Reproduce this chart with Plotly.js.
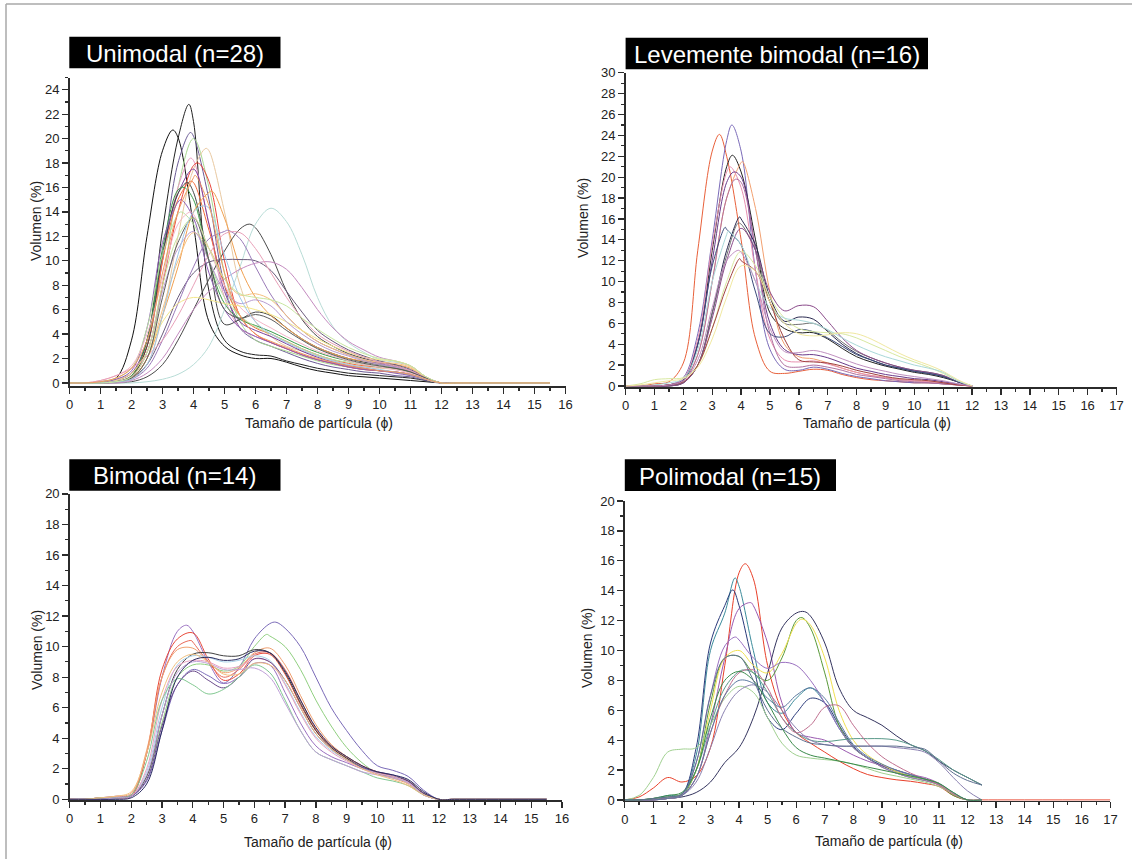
<!DOCTYPE html>
<html>
<head>
<meta charset="utf-8">
<script src="https://cdn.plot.ly/plotly-3.0.1.min.js"></script>
<style>html,body{margin:0;padding:0;background:#fff;}#chart{width:1132px;height:859px;}</style>
</head>
<body>
<div id="chart"></div>
<script>
// ---------- DATA ----------
// x grids (particle size, phi)
const X_UNI = [0,0.5,1,1.5,2,2.5,3,3.5,4,4.5,5,5.5,6,6.5,7,7.5,8,8.5,9,9.5,10,10.5,11,11.5,12,12.5,15.5];
const X_LEV = [0,0.5,1,1.5,2,2.5,3,3.5,4,4.5,5,5.5,6,6.5,7,7.5,8,8.5,9,9.5,10,10.5,11,11.5,12];
const X_BI  = [0,0.5,1,1.5,2,2.5,3,3.5,4,4.5,5,5.5,6,6.5,7,7.5,8,8.5,9,9.5,10,10.5,11,11.5,12,12.5,15.5];
const X_POL = [0,0.5,1,1.5,2,2.5,3,3.5,4,4.5,5,5.5,6,6.5,7,7.5,8,8.5,9,9.5,10,10.5,11,11.5,12,12.5,17];

const TITLES = ["Unimodal (n=28)", "Levemente bimodal (n=16)", "Bimodal (n=14)", "Polimodal (n=15)"];
const X_LABEL = "Tamaño de partícula (ϕ)";
const Y_LABEL = "Volumen (%)";

// Unimodal (28 samples), volume % on X_UNI
const UNIMODAL = [
 [0,0,0.1,0.4,3.5,12,19,20.1,12.9,5,3,2.3,2,2,1.7,1.3,1,0.8,0.6,0.5,0.4,0.3,0.2,0.1,0,0,0],
 [0,0,0,0.1,0.5,3.5,12.5,20,21.4,7.5,3.5,2.6,2.3,2.2,1.8,1.5,1.2,1,0.8,0.7,0.6,0.5,0.4,0.2,0,0,0],
 [0,0,0,0.1,0.5,3,10,18,20.2,15,8,4.5,3.5,3,2.5,2,1.6,1.3,1.1,0.9,0.8,0.6,0.5,0.2,0,0,0],
 [0,0,0,0.1,0.4,2,8,16,20,16,9,5,3.5,3,2.6,2.2,1.8,1.5,1.3,1.1,1,0.9,0.6,0.3,0,0,0],
 [0,0,0,0.1,0.3,1.5,5.5,12,17.5,19,14,8,5,3.8,3,2.6,2.2,1.8,1.5,1.3,1.2,1.1,0.8,0.3,0,0,0],
 [0,0,0.1,0.3,0.8,3,10,16,18.2,13,7,4.5,3.8,3.3,2.8,2.3,1.9,1.6,1.3,1.1,1,0.9,0.7,0.3,0,0,0],
 [0,0,0,0.1,0.5,2.5,8,14,17.8,16.5,10,5.5,4,3.3,2.8,2.3,1.9,1.6,1.3,1.1,1,0.9,0.7,0.3,0,0,0],
 [0,0,0,0.2,0.8,3.5,10.5,15.5,17.5,13,7.5,5,4.3,3.8,3.2,2.6,2.1,1.7,1.4,1.2,1,0.9,0.7,0.3,0,0,0],
 [0,0,0,0.1,0.6,3,10,15,16.4,12.5,8,5.5,4.5,4,3.4,2.8,2.3,1.9,1.6,1.4,1.3,1.2,0.9,0.3,0,0,0],
 [0,0,0,0.1,0.5,3,10.5,15.5,15.6,10,4.8,5.2,5.8,5.5,4.5,3.6,2.9,2.4,2,1.7,1.5,1.3,1,0.4,0,0,0],
 [0,0,0,0.1,0.6,3.5,11,15.8,15,10,6.5,5.2,4.7,4.2,3.6,3,2.5,2.1,1.8,1.5,1.3,1.2,0.9,0.4,0,0,0],
 [0,0,0,0.1,0.4,2,5.5,9.5,14,15.6,13.5,9.5,7,5.5,4.5,3.6,2.9,2.4,2,1.8,1.6,1.5,1.2,0.4,0,0,0],
 [0,0,0.1,0.3,1,4.5,11.5,14.8,13.5,9,6,4.5,3.8,3.3,2.8,2.3,1.9,1.6,1.3,1.1,1,0.8,0.6,0.3,0,0,0],
 [0,0,0.1,0.4,1.2,4.5,10.5,13.8,13,10,7,5.5,4.6,4,3.4,2.8,2.3,1.9,1.7,1.5,1.4,1.3,1,0.3,0,0,0],
 [0,0,0.2,0.6,1.4,4,8.5,13,13.8,11,8,6.2,5.2,4.5,3.8,3.2,2.6,2.2,1.8,1.5,1.3,1.1,0.8,0.4,0,0,0],
 [0,0,0,0,0.1,0.5,1.5,3.5,6,8.5,10.8,12.6,12.7,10.5,7.5,5.2,3.8,3,2.4,2,1.7,1.4,1,0.4,0,0,0],
 [0,0,0,0,0,0.1,0.3,0.7,1.5,3,6,9.5,13,14.3,13.2,10.5,7,4.6,3.3,2.5,1.9,1.7,1.4,0.5,0,0,0],
 [0,0,0,0.1,0.4,1.5,4,7,9,9.9,10.1,10.1,10,9.2,7.5,5.8,4.3,3.4,2.7,2.2,1.8,1.5,1.1,0.4,0,0,0],
 [0,0,0,0.1,0.3,1.2,3.5,6.5,9.5,11.8,12.4,11.8,9.5,7.2,5.5,4.3,3.4,2.8,2.3,1.9,1.6,1.3,1,0.4,0,0,0],
 [0,0,0,0,0.2,0.8,2,4,6,7.5,8.5,9.3,9.8,9.9,9.3,7.8,6,4.5,3.4,2.7,2.1,1.8,1.4,0.5,0,0,0],
 [0,0,0,0.1,0.4,2,6,10,12.3,11,8.5,7.2,7.3,6.8,5.5,4.3,3.4,2.8,2.3,1.9,1.7,1.6,1.3,0.4,0,0,0],
 [0,0,0,0.2,0.8,2.5,5,6.5,7,6.8,6.5,6.3,6,5.6,5,4.3,3.6,3,2.5,2.1,1.9,1.8,1.4,0.5,0,0,0],
 [0,0,0,0.1,0.5,2.5,7.5,11,12.4,10,7.5,6.5,6.8,6.3,5,4,3.2,2.6,2.2,1.8,1.5,1.3,1,0.4,0,0,0],
 [0,0,0.2,0.6,1.2,2.2,3.5,5.5,8,10.5,12.2,12.3,11,9,7,5.3,4,3.2,2.6,2.1,1.7,1.4,1,0.4,0,0,0],
 [0,0,0,0.1,0.4,2,7,11.5,13.5,10,6,5.3,5.6,5.2,4.3,3.5,2.8,2.3,1.9,1.6,1.4,1.2,0.9,0.4,0,0,0],
 [0,0,0,0.1,0.3,1.5,5.5,10.5,14,14.3,10.5,7,5,4,3.3,2.7,2.2,1.8,1.5,1.3,1.1,0.9,0.7,0.3,0,0,0],
 [0,0,0,0.1,0.5,2.5,8,12,13.5,11,8.5,7.3,7,6.8,6.3,5.3,4.4,3.6,2.9,2.4,2,1.8,1.4,0.5,0,0,0],
 [0,0,0.1,0.4,1.2,3.5,9,14,16.8,14.5,9,5.5,4,3.4,2.9,2.4,2,1.7,1.4,1.2,1,0.9,0.7,0.3,0,0,0]
];
// mode [phi, volume %] of each unimodal curve (null = mode already on grid)
const UNIMODAL_PEAKS = [[3.33,20.7],[3.85,22.8],[3.9,20.5],null,[4.4,19.2],[3.9,18.4],[4.15,18],null,[3.9,16.5],[3.8,16.4],
 [3.7,16],[4.6,15.7],[3.6,15],[3.6,14],[3.9,14],[5.8,13],null,null,[5.1,12.5],null,
 null,null,null,null,null,[4.35,14.5],null,[4.05,17]];
const UNIMODAL_COLORS = ['#111111','#222222','#6b5b95','#a8d890','#e8c8a0','#e899c0','#e8433a','#7b3f99','#f26b3a','#454545',
 '#3a9a4a','#f0a050','#8e5fb5','#b8e0a0','#f4b6c8','#4a4a4a','#b8dcd6','#6a5a7a','#9a7ab8','#c48bc0',
 '#f5c080','#f2e68a','#b89cd0','#e8a0b8','#5a5a5a','#a0c8e8','#c8e6a0','#f09a60'];

// Levemente bimodal (16 samples) on X_LEV
const LEVEMENTE = [
 [0,0,0.2,0.4,2.2,13,22.5,22,14,4.5,1.4,1.2,1.4,1.6,1.5,1.1,0.8,0.6,0.5,0.4,0.3,0.3,0.2,0.1,0],
 [0,0,0,0.1,0.8,5,14,23.5,22.5,11,3.5,1.6,1.5,1.8,1.6,1.2,0.9,0.7,0.5,0.4,0.3,0.3,0.2,0.1,0],
 [0,0,0,0.1,0.6,4,13,21,20.5,14,7,5.5,5.1,5.1,4.5,3.6,2.8,2.3,1.9,1.6,1.3,1.1,0.8,0.4,0],
 [0,0,0,0.1,0.5,3,10,18,21.4,17,9,4,2.8,2.6,2.2,1.7,1.3,1,0.8,0.6,0.5,0.4,0.3,0.1,0],
 [0,0,0,0.1,0.7,4.5,13.5,20.5,19,11,4.5,2.5,2.3,2.4,2.1,1.7,1.3,1,0.8,0.6,0.5,0.4,0.3,0.1,0],
 [0,0,0,0.1,0.6,4,12,19.5,20,13,6,3.5,3,3,2.7,2.2,1.7,1.4,1.1,0.9,0.7,0.6,0.4,0.2,0],
 [0,0,0,0.1,0.5,3,10,18,19.5,13,5,2,1.8,2,1.8,1.5,1.1,0.9,0.7,0.5,0.4,0.3,0.2,0.1,0],
 [0,0,0,0,0.3,2,7,13,16,13.5,8.5,6.2,6.6,6.4,5.2,4,3.1,2.5,2,1.7,1.4,1.2,0.9,0.4,0],
 [0,0,0,0,0.3,2,7,12.5,15.5,13,8,6,5.9,6,5.3,4.2,3.3,2.7,2.2,1.8,1.5,1.3,1,0.4,0],
 [0,0,0,0,0.3,2,6.5,12,15.1,13,9,7.2,7.7,7.6,6.2,4.6,3.4,2.7,2.2,1.8,1.5,1.3,1,0.4,0],
 [0,0,0,0.1,0.5,4,11.5,15,13.5,9,5,4.7,5.4,5.2,4.6,3.8,3,2.5,2,1.7,1.4,1.2,0.9,0.4,0],
 [0,0.2,0.6,0.7,0.8,2,5.5,10,12.9,11.5,8.5,6.5,5.5,5.2,5.1,5,4.6,4,3.4,2.8,2.3,1.8,1.2,0.5,0],
 [0,0,0.1,0.3,0.7,3.5,10,14.5,13.5,10,7.5,6.5,6.3,6,5.4,4.6,3.9,3.3,2.8,2.4,2,1.7,1.3,0.5,0],
 [0,0,0,0.1,0.4,2,5.5,9.5,12,11,8,4.5,2.5,2.3,2.2,1.9,1.5,1.2,0.9,0.7,0.6,0.5,0.3,0.1,0],
 [0,0,0,0.1,0.5,2.5,7.5,12,12.8,10,5.5,3.3,3.2,3.4,3.1,2.6,2.1,1.7,1.4,1.1,0.9,0.7,0.5,0.2,0],
 [0,0.1,0.3,0.5,0.7,1.8,4.5,8.5,11.5,11,8,6,5,4.8,4.9,5.1,5,4.5,3.8,3.1,2.5,2,1.4,0.6,0]
];
const LEVEMENTE_PEAKS = [[3.25,24.1],[3.68,25],[3.7,22.1],[4.05,21.5],[3.62,21],[3.75,20.5],[3.8,19.8],[3.95,16.2],
 [3.9,15.6],null,[3.45,15.2],null,[3.55,14.8],[3.95,12.2],[3.9,13],null];
const LEVEMENTE_COLORS = ['#e8603a','#7a6ab8','#222222','#f2a070','#e890b0','#6a3a8a','#b070a0','#2a2a50',
 '#707070','#8a4a8a','#3a4a7a','#d8e8a0','#a8d8d8','#a04040','#c090c0','#f0e8a0'];

// Bimodal (14 samples) on X_BI
const BIMODAL = [
 [0,0,0.1,0.2,0.3,3,8,11,11,9,7.6,8,8.9,8.8,7,5,3.5,2.8,2.4,2,1.7,1.5,1.1,0.3,0,0,0],
 [0,0,0,0.1,0.2,1.2,4.5,7.5,8.5,8.1,7.6,8.6,10.5,11.5,11.2,10,8,6,4.5,3.2,2.2,1.9,1.5,0.6,0,0,0],
 [0,0,0.1,0.1,0.2,1.5,5,8,8.8,8.8,8.4,8.7,10,10.7,10,8.5,6.5,4.8,3.4,2.4,1.7,1.4,1.1,0.4,0,0,0],
 [0,0,0.1,0.1,0.2,3,8.5,10.5,10.9,9.2,7.8,8.2,9.4,9.5,8.2,6.2,4.5,3.4,2.7,2.1,1.7,1.5,1.1,0.3,0,0,0],
 [0,0,0.1,0.1,0.3,3,8,10,10.3,9,8,8.5,9.5,9.6,8.5,6.5,4.6,3.5,2.8,2.2,1.8,1.5,1.2,0.4,0,0,0],
 [0,0,0.1,0.2,0.4,3.2,8,9.8,9.9,9,8.3,8.6,9.6,9.9,8.8,6.8,4.9,3.6,2.8,2.2,1.7,1.4,1,0.3,0,0,0],
 [0,0,0,0.1,0.2,1.5,5.5,8.5,9.5,9.6,9.4,9.4,9.8,9.6,8.3,6.3,4.5,3.4,2.7,2.1,1.7,1.5,1.2,0.4,0,0,0],
 [0,0,0,0.1,0.2,1.8,6,8.8,9.4,9.3,9,9.1,9.4,9.1,7.6,5.7,4.1,3.2,2.6,2.1,1.7,1.5,1.1,0.3,0,0,0],
 [0,0,0.1,0.1,0.2,2,6.5,8.7,9.1,9,8.6,8.7,9.2,9,7.5,5.6,4,3.1,2.5,2,1.7,1.5,1.1,0.3,0,0,0],
 [0,0,0,0.1,0.2,1.3,4.8,7.5,8.4,7.8,7.3,8,9.2,9,7.8,6,4.3,3.3,2.6,2.1,1.8,1.6,1.2,0.4,0,0,0],
 [0,0,0.1,0.1,0.3,2.5,6.5,7.9,7.5,6.9,7.2,8,8.8,8.3,6.5,4.5,3.1,2.6,2.2,1.8,1.4,1.2,0.9,0.3,0,0,0],
 [0,0,0,0.1,0.2,1.6,5.5,8.3,9,8.9,8.5,8.5,8.6,8,6.3,4.5,3.1,2.6,2.2,1.8,1.6,1.4,1.1,0.3,0,0,0],
 [0,0,0.1,0.2,0.5,3,7,9,9.5,9,8.2,8.2,8.9,8.8,7.8,6,4.3,3.3,2.6,2,1.6,1.3,0.9,0.3,0,0,0],
 [0,0,0,0,0.1,1,4.5,8,9.1,9.3,9.1,9.2,9.7,9.6,8.4,6.5,4.7,3.5,2.8,2.2,1.8,1.6,1.3,0.5,0,0,0]
];
const BIMODAL_PEAKS = [[3.8,11.4],[6.7,11.6],[6.4,10.8],null,[3.95,10.4],null,null,null,null,null,null,null,null,null];
const BIMODAL_COLORS = ['#9a70c0','#7a6ab8','#90d080','#e84a3a','#e86a5a','#f0a070','#404040',
 '#a8d0e8','#e8a0c0','#6a4a8a','#80c890','#c0a0d8','#f0c080','#2a2a60'];

// Polimodal (15 samples) on X_POL
const POLIMODAL = [
 [0,0.2,0.8,1.5,1.2,1.6,3.5,9,15.2,14.8,9,6,4.5,3.8,3.2,2.6,2.1,1.7,1.5,1.35,1.25,1.1,0.9,0.3,0,0,0],
 [0,0,0.1,0.3,0.4,3,10,12.5,14.3,10,6.5,5.8,6.8,7.5,6.5,4.8,3.5,2.8,2.3,2,1.7,1.4,1.1,0.4,0,0,null],
 [0,0,0,0.2,0.4,3.5,10.5,13,13,9,5.5,4.7,5.8,6.8,6.5,5,3.6,2.8,2.3,1.9,1.6,1.4,1.1,0.4,0,0,null],
 [0,0,0,0.1,0.3,1.5,5,9.5,12.8,13,10.5,6.5,4.5,4.2,4,3.5,3,2.6,2.3,2,1.7,1.5,1.1,0.4,0,0,null],
 [0,0,0,0.1,0.2,0.5,1.2,2.5,3.5,5.5,8.5,11.5,12.5,12.3,10.5,7.5,6,5.5,5,4.3,3.7,3.3,2.6,2,1.5,1,null],
 [0,0,0,0.1,0.3,2,6.5,9.5,9.6,8.5,8,9.5,12,11.5,8.5,5,3.5,2.8,2.2,1.8,1.5,1.3,1,0.3,0,0,null],
 [0,0,0.1,0.2,0.4,2,6,9.5,10,9,8.5,9.8,11.8,11.7,9.5,6,4,3,2.4,1.9,1.6,1.4,1.1,0.4,0,0,null],
 [0,0,0,0.1,0.3,2.5,7,10.3,10.7,9.5,8.8,9.2,9,8,6.5,4.8,3.5,2.8,2.2,1.8,1.5,1.3,1,0.4,0,0,null],
 [0,0,0.1,0.2,0.4,2,5,7.5,8.6,8.5,7.2,5.5,4.5,4,3.9,4,4.1,4.1,4.1,4,3.7,3.3,2.7,2,1.5,1,null],
 [0,0.3,1.5,3.2,3.4,3.5,5,6.8,7.6,7.2,5.5,3.8,3,2.8,2.7,2.6,2.4,2.1,1.8,1.6,1.4,1.2,0.9,0.4,0,0,null],
 [0,0,0,0.1,0.3,1.2,3.5,6,7.3,7.7,7.2,6,4.8,4,3.7,3.6,3.6,3.6,3.6,3.5,3.4,3.2,2.5,1.5,0.6,0,null],
 [0,0,0,0.1,0.3,1.5,4.5,7,8.5,8.7,7.5,5.5,4.5,5,6.2,6.3,5,3.8,2.9,2.3,1.8,1.4,1,0.4,0,0,null],
 [0,0,0,0.1,0.3,1.5,4.5,7,8,7.8,6.8,6.2,7,7.5,6.8,5.2,3.7,2.9,2.4,2,1.7,1.4,1.1,0.5,0,0,null],
 [0,0,0.1,0.3,0.5,2,5.5,8,8.6,8,6.5,4.8,3.5,3,2.8,2.6,2.4,2.2,2,1.8,1.6,1.4,1.1,0.5,0,0,null],
 [0,0,0.1,0.2,0.4,2.5,7,9.5,9.6,8,6,4.8,4.2,3.8,3.7,3.6,3.6,3.6,3.6,3.6,3.5,3.4,2.6,1.8,1.3,1,null]
];
const POLIMODAL_PEAKS = [[4.22,15.8],[3.86,14.85],[3.78,14.05],[4.41,13.2],[6.29,12.6],[6.2,12.2],[6.2,12.1],[3.87,10.9],
 [4.2,8.7],null,null,null,null,null,null];
const POLIMODAL_COLORS = ['#e8402a','#3a8a9a','#2a3a7a','#9a5ab0','#34345e','#5a9a3a','#f0e050','#9a70c0',
 '#5a9a8a','#a0d090','#8a80b0','#c07090','#5a7aa0','#3a8a4a','#607090'];

// ---------- LAYOUT HELPERS ----------
const W = 1132, H = 859;
const px = v => v / W;
const py = v => 1 - v / H;
const FONT = 'Liberation Sans, Arial, Helvetica, sans-serif';

// merge a curve's mode point into its grid
function withPeak(X, Y, pk) {
  if (!pk) return {x: X, y: Y};
  const xs = [], ys = [];
  let done = false;
  for (let i = 0; i < X.length; i++) {
    if (!done && Math.abs(X[i] - pk[0]) < 1e-9) { xs.push(pk[0]); ys.push(pk[1]); done = true; continue; }
    if (!done && X[i] > pk[0]) { xs.push(pk[0]); ys.push(pk[1]); done = true; }
    xs.push(X[i]); ys.push(Y[i]);
  }
  return {x: xs, y: ys};
}

const panels = [
  {X: X_UNI, Y: UNIMODAL, P: UNIMODAL_PEAKS, C: UNIMODAL_COLORS, xa: 'x',  ya: 'y',  xr: [0,16], yr: [-0.25,25], xd: [69.5,565.5], yd: [386,77.5], box: [69.3,36.7,280.5,68.3], xt: [319,423], yt: [36,221]},
  {X: X_LEV, Y: LEVEMENTE, P: LEVEMENTE_PEAKS, C: LEVEMENTE_COLORS, xa: 'x2', ya: 'y2', xr: [0,17], yr: [-0.1,30], xd: [625.6,1116.5], yd: [387,72.8], box: [625.6,37.7,928,69.3], xt: [877,423], yt: [583,218]},
  {X: X_BI,  Y: BIMODAL, P: BIMODAL_PEAKS, C: BIMODAL_COLORS, xa: 'x3', ya: 'y3', xr: [0,16], yr: [-0.05,20], xd: [69.7,562], yd: [800.1,493.9], box: [69.3,459.3,280.5,490.7], xt: [318,842], yt: [37,650]},
  {X: X_POL, Y: POLIMODAL, P: POLIMODAL_PEAKS, C: POLIMODAL_COLORS, xa: 'x4', ya: 'y4', xr: [0,17], yr: [-0.05,20], xd: [624.8,1110.4], yd: [800.7,501], box: [624.8,459.3,836,491], xt: [889,841], yt: [587,648]}
];

const traces = [];
panels.forEach(p => {
  p.Y.forEach((ys, i) => {
    const d = withPeak(p.X, ys, p.P[i]);
    traces.push({
      x: d.x, y: d.y, xaxis: p.xa, yaxis: p.ya, type: 'scatter', mode: 'lines',
      line: {shape: 'spline', smoothing: 1, width: 1, color: p.C[i % p.C.length]},
      hoverinfo: 'skip', showlegend: false
    });
  });
});

const axisBase = {
  showgrid: false, zeroline: false, showline: true, linecolor: '#2b2b2b', linewidth: 1.5,
  ticks: 'outside', tickwidth: 1.3, tickcolor: '#2b2b2b',
  tickfont: {family: FONT, size: 13, color: '#222'}, fixedrange: true
};

const layout = {
  width: W, height: H, margin: {l: 0, r: 0, t: 0, b: 0},
  paper_bgcolor: '#ffffff', plot_bgcolor: 'rgba(0,0,0,0)',
  font: {family: FONT}, showlegend: false,
  shapes: [
    {type: 'line', xref: 'paper', yref: 'paper', x0: px(6), x1: px(1132), y0: py(4), y1: py(4), line: {color: '#a8a8a8', width: 1.5}},
    {type: 'line', xref: 'paper', yref: 'paper', x0: px(6), x1: px(6), y0: py(4), y1: py(859), line: {color: '#a8a8a8', width: 1.5}}
  ],
  annotations: []
};

panels.forEach((p, k) => {
  const n = k === 0 ? '' : String(k + 1);
  layout['xaxis' + n] = Object.assign({}, axisBase, {
    domain: [px(p.xd[0]), px(p.xd[1])], range: p.xr, anchor: 'y' + n,
    dtick: 1, tick0: 0, ticklen: 6,
    minor: {ticks: 'outside', ticklen: 3, tickwidth: 1.2, tickcolor: '#2b2b2b', dtick: 0.5, tick0: 0}
  });
  layout['yaxis' + n] = Object.assign({}, axisBase, {
    domain: [py(p.yd[0]), py(p.yd[1])], range: p.yr, anchor: 'x' + n,
    dtick: 2, tick0: 0, ticklen: 6,
    minor: {ticks: 'outside', ticklen: 3, tickwidth: 1.2, tickcolor: '#2b2b2b', dtick: 1, tick0: 0}
  });
  layout.shapes.push({type: 'rect', xref: 'paper', yref: 'paper',
    x0: px(p.box[0]), x1: px(p.box[2]), y0: py(p.box[3]), y1: py(p.box[1]),
    fillcolor: '#000000', line: {width: 0}});
  layout.annotations.push({xref: 'paper', yref: 'paper', x: px((p.box[0] + p.box[2]) / 2), y: py((p.box[1] + p.box[3]) / 2 + 1),
    xanchor: 'center', yanchor: 'middle', showarrow: false, text: TITLES[k],
    font: {family: FONT, size: 24, color: '#ffffff'}});
  layout.annotations.push({xref: 'paper', yref: 'paper', x: px(p.xt[0]), y: py(p.xt[1]),
    xanchor: 'center', yanchor: 'middle', showarrow: false, text: X_LABEL,
    font: {family: FONT, size: 14, color: '#222'}});
  layout.annotations.push({xref: 'paper', yref: 'paper', x: px(p.yt[0]), y: py(p.yt[1]),
    xanchor: 'center', yanchor: 'middle', showarrow: false, text: Y_LABEL, textangle: -90,
    font: {family: FONT, size: 14, color: '#222'}});
});

Plotly.newPlot('chart', traces, layout, {displayModeBar: false, staticPlot: true});
</script>
</body>
</html>
